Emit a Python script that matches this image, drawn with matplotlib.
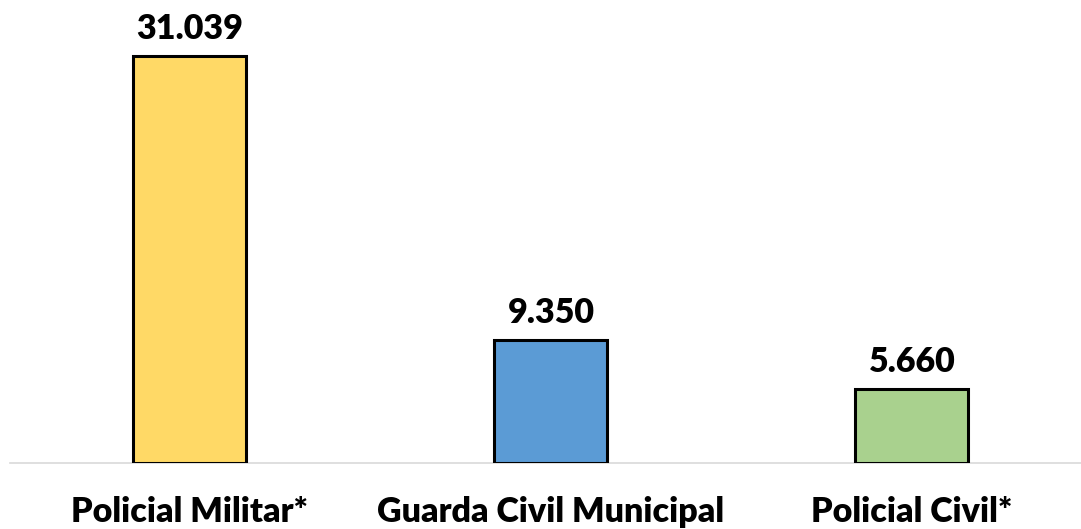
import matplotlib
matplotlib.use("Agg")
import matplotlib.pyplot as plt

categories = ["Policial Militar*", "Guarda Civil Municipal", "Policial Civil*"]
values = [31039, 9350, 5660]
value_labels = ["31.039", "9.350", "5.660"]
colors = ["#FFD966", "#5B9BD5", "#A9D18E"]

W, H = 1081, 529
fig = plt.figure(figsize=(W / 100, H / 100), dpi=100)
base_px = 463
left_px = 10
ax = fig.add_axes([left_px / W, (H - base_px) / H, (W - left_px) / W, base_px / H])

spacing = 361.0
c0 = 190.0
ax.set_xlim((left_px - c0) / spacing, (W - c0) / spacing)
ax.set_ylim(0, 31039 * base_px / 407.0)

x = list(range(len(categories)))
ax.bar(x, values, width=113 / spacing, color=colors, edgecolor="black", linewidth=2.2, zorder=3)

font = "Lato"
fs = 24.5
for xi, v, lab in zip(x, values, value_labels):
    ax.annotate(lab, (xi, v), xytext=(0, 12.2), textcoords="offset points",
                ha="center", va="baseline", fontsize=fs, fontweight="heavy", family=font)

for s in ["top", "right", "left"]:
    ax.spines[s].set_visible(False)
ax.spines["bottom"].set_color("#D9D9D9")
ax.spines["bottom"].set_linewidth(1.2)
ax.set_yticks([])
ax.set_xticks(x)
ax.set_xticklabels([])
ax.tick_params(axis="x", length=0)

label_y = -(522 - base_px) / base_px
for xi, cat in zip(x, categories):
    ax.text(xi, label_y, cat, transform=ax.get_xaxis_transform(), ha="center",
            va="baseline", fontsize=fs, fontweight="heavy", family=font, clip_on=False)

fig.savefig("out.png", dpi=100)
